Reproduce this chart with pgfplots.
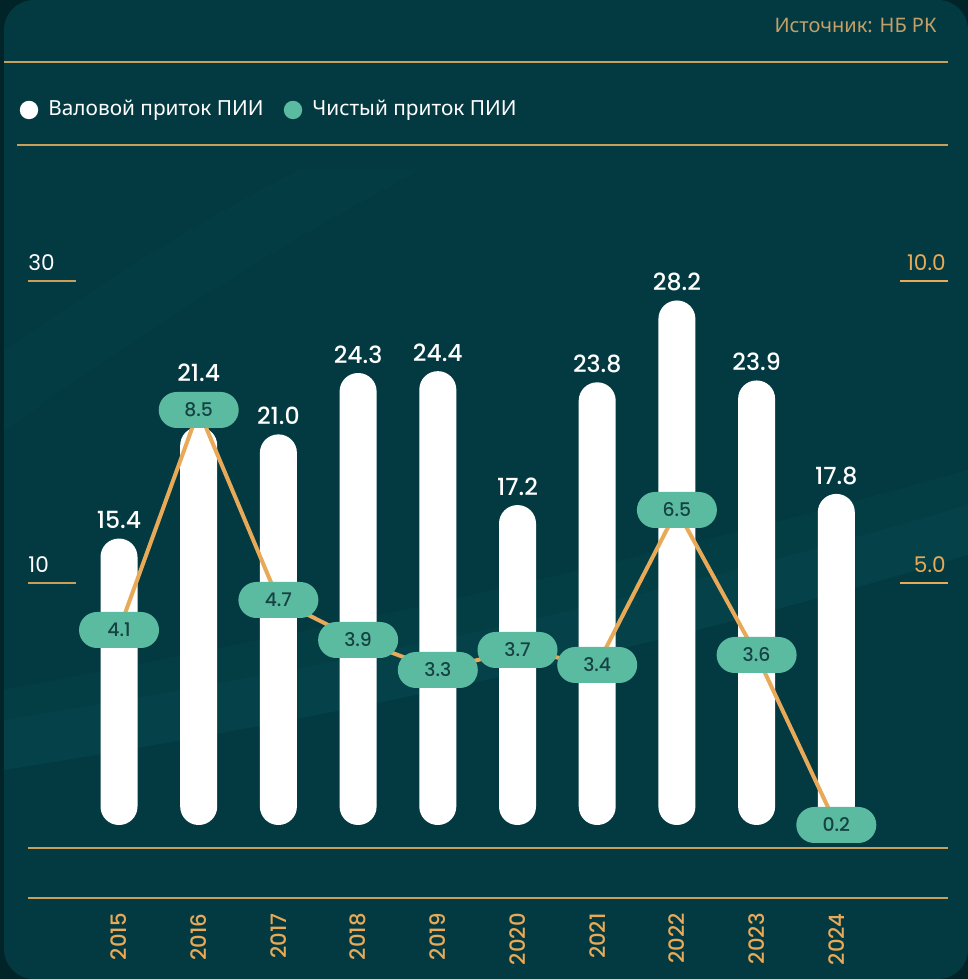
\documentclass[border=0pt]{standalone}
\usepackage{pgfplots}
\pgfplotsset{compat=1.18}
\usepackage{pgfplotstable}
\usepackage{fontspec}
\setmainfont{Noto Sans}
\newfontfamily\numfont{Poppins}
\newfontfamily\nummed{Poppins Medium}
\definecolor{bgc}{RGB}{3,58,65}
\definecolor{outc}{RGB}{1,36,41}
\definecolor{bandc}{RGB}{16,92,98}
\definecolor{tanc}{RGB}{201,160,90}
\definecolor{orc}{RGB}{232,170,88}
\definecolor{pillc}{RGB}{91,187,160}
\definecolor{pilltx}{RGB}{22,66,68}
\definecolor{srcc}{RGB}{196,160,104}

\pgfplotstableread{
x y lab
0 15.4 15.4
1 21.4 21.4
2 21.0 21.0
3 24.3 24.3
4 24.4 24.4
5 17.2 17.2
6 23.8 23.8
7 28.2 28.2
8 23.9 23.9
9 17.8 17.8
}\grossdata
\pgfplotstableread{
x y lab
0 4.1 4.1
1 8.5 8.5
2 4.7 4.7
3 3.9 3.9
4 3.3 3.3
5 3.7 3.7
6 3.4 3.4
7 6.5 6.5
8 3.6 3.6
9 0.2 0.2
}\netdata

\begin{document}
\begin{tikzpicture}
\useasboundingbox (0,0) rectangle (484pt,489.5pt);
% background (pixel coordinates, y downwards)
\begin{scope}[x=0.5pt,y=-0.5pt,yshift=489.5pt]
  \fill[outc] (0,0) rectangle (968,979);
  \fill[bgc,rounded corners=15pt] (4,0) rectangle (968,979);
  \fill[bandc,opacity=0.08] (4,430) .. controls (150,330) and (250,260) .. (420,170) -- (300,170) .. controls (180,230) and (80,300) .. (4,350) -- cycle;
  \fill[bandc,opacity=0.22] (4,770) .. controls (350,715) and (650,650) .. (968,555) -- (968,505) .. controls (650,600) and (350,665) .. (4,720) -- cycle;
  \fill[bandc,opacity=0.14] (4,720) .. controls (350,665) and (650,600) .. (968,505) -- (968,470) .. controls (650,560) and (350,625) .. (4,690) -- cycle;
\end{scope}

% gross inflow (bars)
\begin{axis}[
  at={(0,33pt)}, anchor=south west, scale only axis,
  width=484pt, height=456.5pt,
  xmin=-1.4931, xmax=10.6524, ymin=-4.7312, ymax=44.3548,
  axis line style={draw=none}, ytick=\empty,
  xtick={0,...,9},
  xticklabels={\mbox{2015},\mbox{2016},\mbox{2017},\mbox{2018},\mbox{2019},\mbox{2020},\mbox{2021},\mbox{2022},\mbox{2023},\mbox{2024}},
  major tick length=0pt, tick style={draw=none},
  xticklabel style={rotate=90, anchor=east, inner sep=0pt, font=\nummed\fontsize{10.6}{10.6}\selectfont, text=orc},
  clip=false,
  /pgf/number format/assume math mode=true,
]
\addplot[ybar, bar width=18.5pt, fill=white, draw=none, rounded corners=9.2pt,
  nodes near coords={\pgfplotspointmeta}, point meta=explicit symbolic,
  every node near coord/.append style={anchor=south, inner sep=0pt, yshift=4.5pt, text=white, font=\nummed\fontsize{11.8}{11.8}\selectfont, rounded corners=0pt},
  coordinate style/.condition={x==1}{yshift=18pt},
] table[x=x, y=y, meta=lab] {\grossdata};
\end{axis}

% net inflow (line with labels)
\begin{axis}[
  at={(0,33pt)}, anchor=south west, scale only axis,
  width=484pt, height=456.5pt,
  xmin=-1.4931, xmax=10.6524, ymin=-1.56, ymax=16.7,
  hide axis, clip=false,
]
\addplot[orc, line width=2pt, mark=none,
  nodes near coords={\pgfplotspointmeta}, point meta=explicit symbolic,
  every node near coord/.append style={anchor=center, fill=pillc, rounded corners=9pt, minimum width=40pt, minimum height=18pt, inner sep=0pt, text=pilltx, font=\nummed\fontsize{9.4}{9.4}\selectfont},
] table[x=x, y=y, meta=lab] {\netdata};
\end{axis}

% decorations
\begin{scope}[x=0.5pt,y=-0.5pt,yshift=489.5pt]
  \draw[tanc, line width=0.6pt] (4,62) -- (948,62);
  \draw[tanc, line width=0.6pt] (17,145) -- (948,145);
  \draw[tanc, line width=0.6pt] (28,848) -- (948,848);
  \draw[tanc, line width=0.6pt] (28,898) -- (948,898);
  \draw[tanc, line width=0.7pt] (28,281) -- (76,281);
  \draw[tanc, line width=0.7pt] (28,583) -- (76,583);
  \draw[orc, line width=0.7pt] (900,281) -- (948,281);
  \draw[orc, line width=0.7pt] (900,583) -- (948,583);
  \node[anchor=base west, inner sep=0pt, text=white, font=\numfont\fontsize{10.8}{10.8}\selectfont] at (28,271) {30};
  \node[anchor=base west, inner sep=0pt, text=white, font=\numfont\fontsize{10.8}{10.8}\selectfont] at (28,573) {10};
  \node[anchor=base east, inner sep=0pt, text=orc, font=\numfont\fontsize{10.8}{10.8}\selectfont] at (946,271) {10.0};
  \node[anchor=base east, inner sep=0pt, text=orc, font=\numfont\fontsize{10.8}{10.8}\selectfont] at (946,573) {5.0};
  \node[anchor=base east, inner sep=0pt, text=srcc, font=\fontsize{10}{10}\selectfont] at (937,33) {Источник: НБ РК};
  \fill[white] (29,110) circle[radius=4.6pt];
  \node[anchor=base west, inner sep=0pt, text=white, font=\fontsize{10.4}{10.4}\selectfont] at (48,116) {Валовой приток ПИИ};
  \fill[pillc] (293,110) circle[radius=4.6pt];
  \node[anchor=base west, inner sep=0pt, text=white, font=\fontsize{10.4}{10.4}\selectfont] at (312,116) {Чистый приток ПИИ};
\end{scope}
\end{tikzpicture}
\end{document}
